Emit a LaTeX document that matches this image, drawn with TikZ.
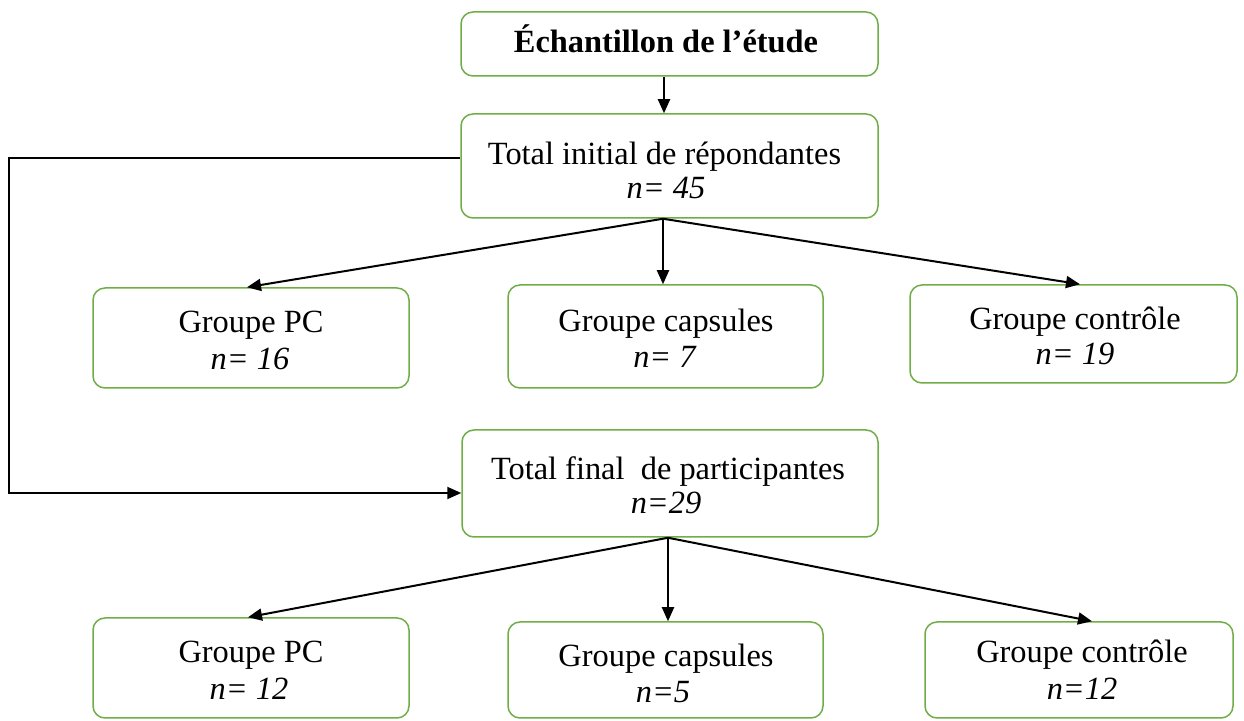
\documentclass[tikz,border=0pt]{standalone}
\usepackage{fontspec}
\setmainfont{Liberation Serif}
\usetikzlibrary{arrows.meta,calc}
\definecolor{boxgreen}{HTML}{70AD47}
\begin{document}
\begin{tikzpicture}[x=0.5pt,y=-0.5pt,
  box/.style={draw=boxgreen,line width=0.75pt,rounded corners=6pt,inner sep=0pt,minimum width=#1},
  arr/.style={draw=black,line width=1pt,-{Triangle[length=7pt,width=6pt]}},
  txt/.style={anchor=base,inner sep=0pt,font=\fontsize{16.2pt}{19pt}\selectfont},
  txtb/.style={txt,font=\fontsize{16.2pt}{19pt}\selectfont\bfseries}]
\useasboundingbox (0,0) rectangle (1244,721);
% boxes
\node[box=208.5pt,minimum height=32pt] (top) at (669.5,44) {};
\node[box=208.5pt,minimum height=52pt] (b2) at (669.5,166) {};
\node[box=158pt,minimum height=50pt] (pc1) at (251,338) {};
\node[box=157.5pt,minimum height=51.5pt] (cap1) at (665.5,336.5) {};
\node[box=163.5pt,minimum height=49pt] (ctl1) at (1073.5,334) {};
\node[box=208pt,minimum height=53.5pt] (b3) at (670,483.5) {};
\node[box=158pt,minimum height=50pt] (pc2) at (251,668) {};
\node[box=157.5pt,minimum height=48pt] (cap2) at (665.5,670) {};
\node[box=154pt,minimum height=48pt] (ctl2) at (1079,670) {};
% texts
\node[txtb] (t1) at (666,53) {Échantillon de l’étude};
\node[txt] (t2a) at (664.5,165) {Total initial de répondantes};
\node[txt] (t2b) at (666,199) {\textit{n= 45}};
\node[txt] (t3a) at (251,333) {Groupe PC};
\node[txt] (t3b) at (250,370) {\textit{n= 16}};
\node[txt] (t4a) at (666,332) {Groupe capsules};
\node[txt] (t4b) at (665,368) {\textit{n= 7}};
\node[txt] (t5a) at (1075,330) {Groupe contrôle};
\node[txt] (t5b) at (1075,365) {\textit{n= 19}};
\node[txt] (t6a) at (668,480) {Total final\ \ de participantes};
\node[txt] (t6b) at (666,514) {\textit{n=29}};
\node[txt] (t7a) at (251,663) {Groupe PC};
\node[txt] (t7b) at (249,700) {\textit{n= 12}};
\node[txt] (t8a) at (666,667) {Groupe capsules};
\node[txt] (t8b) at (663,703) {\textit{n=5}};
\node[txt] (t9a) at (1082,663) {Groupe contrôle};
\node[txt] (t9b) at (1082,700) {\textit{n=12}};
% connectors
\draw[arr] ([xshift=-2.75pt]top.south) -- ([xshift=-2.75pt]b2.north);
\draw[arr] ([xshift=-3.25pt]b2.south) -- ([xshift=-2pt]pc1.north);
\draw[arr] ([xshift=-3.25pt]b2.south) -- ([xshift=-1.25pt]cap1.north);
\draw[arr] ([xshift=-3.25pt]b2.south) -- ([xshift=3.25pt]ctl1.north);
\draw[arr] ([yshift=4pt]b2.west) -- ++(-225.5pt,0) |- ([yshift=-4.75pt]b3.west);
\draw[arr] ([xshift=-1pt]b3.south) -- ([xshift=-1.5pt]pc2.north);
\draw[arr] ([xshift=-1pt]b3.south) -- ([xshift=1.25pt]cap2.north);
\draw[arr] ([xshift=-1pt]b3.south) -- ([xshift=6.5pt]ctl2.north);
\end{tikzpicture}
\end{document}
